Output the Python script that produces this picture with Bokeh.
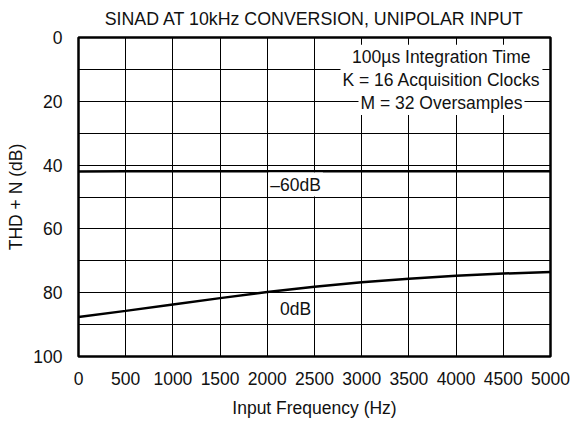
from bokeh.plotting import figure
from bokeh.models import Range1d, FixedTicker, Label
from bokeh.embed import file_html
from bokeh.resources import INLINE

# ---- data ----
freq_hz = [0, 500, 1000, 1500, 2000, 2500, 3000, 3500, 4000, 4500, 5000]
thd_0db = [87.6, 85.7, 83.7, 81.7, 79.8, 78.1, 76.7, 75.6, 74.7, 74.0, 73.5]
thd_m60db = [42.0, 41.9, 41.9, 41.9, 41.9, 41.9, 41.9, 41.9, 41.9, 41.9, 41.9]
x_ticks = [0, 500, 1000, 1500, 2000, 2500, 3000, 3500, 4000, 4500, 5000]
y_ticks = [0, 20, 40, 60, 80, 100]
y_minor = [10, 30, 50, 70, 90]
note_lines = ["100\u00b5s Integration Time", "K = 16 Acquisition Clocks", "M = 32 Oversamples"]

FONT = "Liberation Sans"
FS = "17.5px"
TXT = "#111111"

p = figure(width=570, height=420, output_backend="svg", toolbar_location=None,
           x_range=Range1d(0, 5000), y_range=Range1d(100, 0),
           min_border_left=78, min_border_right=20, min_border_top=37, min_border_bottom=64,
           title="SINAD AT 10kHz CONVERSION, UNIPOLAR INPUT")
p.background_fill_color = "white"
p.border_fill_color = "white"
p.outline_line_color = "black"
p.outline_line_width = 2.5

p.title.align = "center"
p.title.vertical_align = "top"
p.title.text_font = FONT
p.title.text_font_size = "17.8px"
p.title.text_font_style = "normal"
p.title.text_color = TXT
p.title.standoff = 13

for ax in (p.xaxis[0], p.yaxis[0]):
    ax.axis_line_color = None
    ax.major_tick_line_color = None
    ax.minor_tick_line_color = None
    ax.major_tick_out = 0
    ax.major_tick_in = 0
    ax.minor_tick_out = 0
    ax.minor_tick_in = 0
    ax.major_label_text_font = FONT
    ax.major_label_text_font_size = FS
    ax.major_label_text_color = TXT
    ax.axis_label_text_font = FONT
    ax.axis_label_text_font_size = FS
    ax.axis_label_text_font_style = "normal"
    ax.axis_label_text_color = TXT

p.xaxis[0].ticker = FixedTicker(ticks=x_ticks)
p.yaxis[0].ticker = FixedTicker(ticks=y_ticks, minor_ticks=y_minor)
p.xaxis.axis_label = "Input Frequency (Hz)"
p.yaxis.axis_label = "THD + N (dB)"
p.xaxis.major_label_standoff = 15
p.xaxis.axis_label_standoff = 10
p.yaxis.major_label_standoff = 16
p.yaxis.axis_label_standoff = 4

p.xgrid.grid_line_color = "black"
p.xgrid.grid_line_width = 1
p.ygrid.grid_line_color = "black"
p.ygrid.grid_line_width = 1
p.ygrid.minor_grid_line_color = "black"
p.ygrid.minor_grid_line_width = 1

p.line(freq_hz, thd_m60db, line_color="black", line_width=2.5)
p.line(freq_hz, thd_0db, line_color="black", line_width=2.5)

for txt, yv in zip(note_lines, [6.0, 13.3, 20.5]):
    p.add_layout(Label(x=3845, y=yv, text=txt, text_align="center", text_baseline="middle",
                       text_font=FONT, text_font_size=FS, text_color=TXT,
                       background_fill_color="white", padding=2))

p.add_layout(Label(x=2300, y=46.1, text="\u201360dB", text_align="center", text_baseline="middle",
                   text_font=FONT, text_font_size=FS, text_color=TXT,
                   background_fill_color="white", padding=2))
p.add_layout(Label(x=2300, y=85.1, text="0dB", text_align="center", text_baseline="middle",
                   text_font=FONT, text_font_size=FS, text_color=TXT,
                   background_fill_color="white", padding=2))

open("out.html", "w").write(file_html(p, INLINE))
